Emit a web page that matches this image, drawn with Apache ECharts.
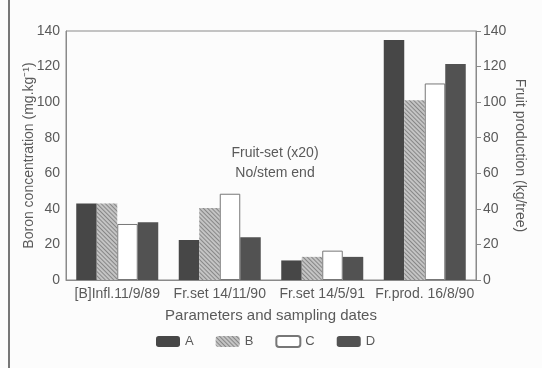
<!DOCTYPE html>
<html><head><meta charset="utf-8">
<script src="https://cdn.jsdelivr.net/npm/echarts@6/dist/echarts.min.js"></script>
<style>html,body{margin:0;padding:0;background:#fcfcfc}#c{width:542px;height:368px}</style>
</head><body><div id="c"></div>
<script>
var categories = ['[B]Infl.11/9/89', 'Fr.set 14/11/90', 'Fr.set 14/5/91', 'Fr.prod. 16/8/90'];
var seriesA = [43, 22.5, 11, 135];
var seriesB = [43, 40.5, 13, 101];
var seriesC = [31.5, 48.5, 16.5, 110.5];
var seriesD = [32.5, 24, 13, 121.5];
var yTicks = [0, 20, 40, 60, 80, 100, 120, 140];
var names = ['A', 'B', 'C', 'D'];

var txt = '#5a5a5a';
var font = 'Liberation Sans';
var chart = echarts.init(document.getElementById('c'), null, {renderer: 'canvas'});
function bar(name, data, style) {
  return {name: name, type: 'bar', data: data, barGap: '0%', barCategoryGap: '20%',
    itemStyle: style, emphasis: {disabled: true}, animation: false};
}
var axisCommon = {
  type: 'value', min: yTicks[0], max: yTicks[yTicks.length - 1], interval: 20,
  axisLine: {show: true, lineStyle: {color: '#8a8a8a', width: 1}},
  splitLine: {show: false},
  nameLocation: 'middle',
  nameMoveOverlap: false,
  nameTextStyle: {color: txt, fontSize: 14, fontFamily: font}
};
chart.setOption({
  backgroundColor: '#fcfcfc',
  animation: false,
  grid: {left: 66, right: 66, top: 31, bottom: 88, show: true, borderColor: '#8a8a8a', borderWidth: 1},
  legend: {
    left: 151, top: 330, itemWidth: 24, itemHeight: 11, itemGap: 22,
    textStyle: {color: txt, fontSize: 13, fontFamily: font},
    data: names
  },
  xAxis: {
    type: 'category', data: categories,
    axisLine: {lineStyle: {color: '#8a8a8a'}},
    axisTick: {show: false},
    axisLabel: {color: txt, fontSize: 14, fontFamily: font, margin: 7, interval: 0},
    name: 'Parameters and sampling dates', nameLocation: 'middle', nameGap: 28, nameMoveOverlap: false,
    nameTextStyle: {color: txt, fontSize: 15, fontFamily: font}
  },
  yAxis: [
    Object.assign({}, axisCommon, {position: 'left', axisTick: {show: false},
      name: 'Boron concentration (mg.kg\u207B\u00B9)', nameGap: 30,
      axisLabel: {color: txt, fontSize: 14, fontFamily: font, margin: 6}}),
    Object.assign({}, axisCommon, {position: 'right', axisTick: {show: true, length: 5, lineStyle: {color: '#8a8a8a'}},
      name: 'Fruit production (kg/tree)', nameGap: 37, nameRotate: -90,
      axisLabel: {color: txt, fontSize: 14, fontFamily: font, margin: 7}})
  ],
  series: [
    bar('A', seriesA, {color: '#474747'}),
    bar('B', seriesB, {color: '#c4c4c4', decal: {color: 'rgba(60,60,60,0.45)', dashArrayX: [1, 0], dashArrayY: [1, 2], rotation: Math.PI / 4}}),
    bar('C', seriesC, {color: '#ffffff', borderColor: '#777', borderWidth: 1}),
    bar('D', seriesD, {color: '#525252'})
  ],
  graphic: [
    {type: 'text', x: 275, y: 146, style: {text: 'Fruit-set (x20)', align: 'center', fill: txt, fontSize: 14, fontFamily: font}},
    {type: 'text', x: 275, y: 166, style: {text: 'No/stem end', align: 'center', fill: txt, fontSize: 14, fontFamily: font}},
    {type: 'line', shape: {x1: 9, y1: 0, x2: 9, y2: 368}, style: {stroke: '#777', lineWidth: 2}}
  ]
});
</script></body></html>
